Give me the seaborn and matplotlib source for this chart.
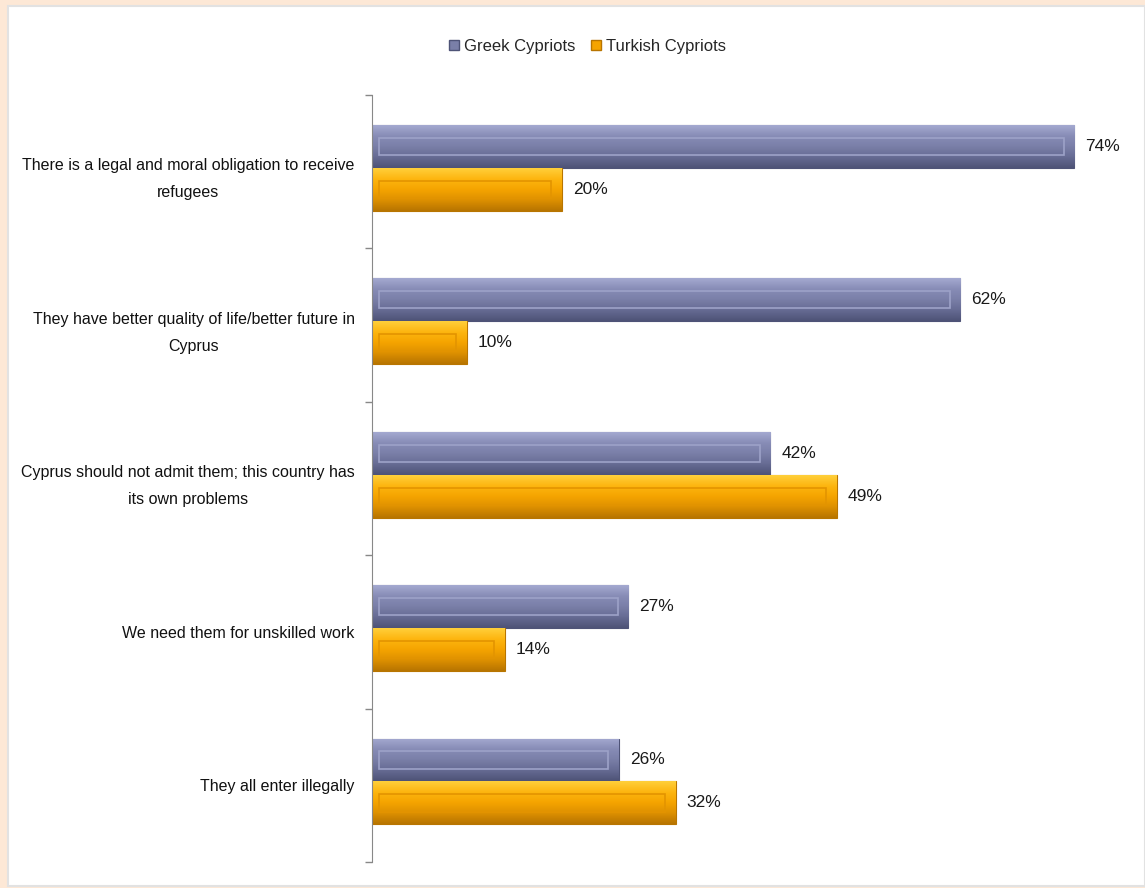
import numpy as np
import pandas as pd
import matplotlib.pyplot as plt
import seaborn as sns
from matplotlib.patches import Rectangle
from matplotlib.colors import LinearSegmentedColormap

# Data
categories = ["There is a legal and moral obligation to receive\nrefugees",
              "They have better quality of life/better future in\nCyprus",
              "Cyprus should not admit them; this country has\nits own problems",
              "We need them for unskilled work",
              "They all enter illegally"]
groups = ["Greek Cypriots", "Turkish Cypriots"]
greek = [74, 62, 42, 27, 26]
turkish = [20, 10, 49, 14, 32]

df = pd.DataFrame({
    "Reason": categories * 2,
    "Group": [groups[0]] * len(categories) + [groups[1]] * len(categories),
    "Percent": greek + turkish,
})

sns.set_style("white")
plt.rcParams['font.family'] = ['Liberation Sans', 'DejaVu Sans']

colors = {"Greek Cypriots": "#7B80A9", "Turkish Cypriots": "#F6A800"}
shades = {
    "Greek Cypriots": ["#A4A9D0", "#878CB6", "#7A7FA8", "#666B93", "#4E5377"],
    "Turkish Cypriots": ["#FFCF3A", "#FDB50F", "#F5A400", "#DD9000", "#B87500"],
}
inner = {"Greek Cypriots": "#9DA2C8", "Turkish Cypriots": "#E39400"}

fig = plt.figure(figsize=(11.45, 8.88), dpi=100)
fig.patch.set_facecolor("#FDE8D6")
# white panel behind everything
fig.patches.append(Rectangle((8 / 1145, 2 / 888), 1 - 8 / 1145, 1 - 8 / 888,
                             transform=fig.transFigure, facecolor="white",
                             edgecolor="#E2E2E2", lw=1.5, zorder=-10))

ax = fig.add_axes([372 / 1145, 1 - 862 / 888, (1131 - 372) / 1145, (862 - 95) / 888])
ax.set_facecolor("none")
ax.set_zorder(5)

sns.barplot(data=df, y="Reason", x="Percent", hue="Group", orient="h",
            palette=colors, width=0.56, gap=0, dodge=True, ax=ax,
            legend=False, edgecolor="none")

# beveled look on each bar
for container, grp in zip(ax.containers, groups):
    cmap = LinearSegmentedColormap.from_list(grp, shades[grp])
    grad = np.linspace(0, 1, 64).reshape(-1, 1)
    for bar in container:
        bar.set_y(bar.get_y() - 0.025)
        bar.set_edgecolor(shades[grp][4])
        bar.set_linewidth(0.8)
        x0, y0 = bar.get_x(), bar.get_y()
        w, h = bar.get_width(), bar.get_height()
        im = ax.imshow(grad, cmap=cmap, aspect="auto", origin="upper",
                       extent=(x0, x0 + w, y0 + h, y0), zorder=2)
        im.set_clip_path(bar)
        ax.add_patch(Rectangle((x0 + 0.7, y0 + h * 0.3), w - 1.8, h * 0.4,
                               facecolor="none", edgecolor=inner[grp],
                               lw=1.2, zorder=3))
    ax.bar_label(container, labels=[f"{int(v)}%" for v in container.datavalues],
                 padding=8, fontsize=12.5, color="#1A1A1A")
ax.set_xlim(0, 80)
ax.set_ylim(len(categories) - 0.5, -0.5)

# axis styling
sns.despine(ax=ax, top=True, right=True, bottom=True)
ax.spines["left"].set_color("#888888")
ax.set_xticks([])
ax.set_xlabel("")
ax.set_ylabel("")
ax.tick_params(axis="y", which="major", left=False, pad=9, labelsize=11.5)
ax.set_yticks(np.arange(-0.5, len(categories), 1.0), minor=True)
ax.tick_params(axis="y", which="minor", left=True, length=5, width=1,
               color="#888888", direction="out")
for lbl in ax.get_yticklabels():
    lbl.set_multialignment("center")
    lbl.set_linespacing(2.0)
    lbl.set_color("#111111")

# legend at top centre
handles = [Rectangle((0, 0), 1, 1, facecolor=shades[g][2], edgecolor=shades[g][4])
           for g in groups]
fig.legend(handles, groups, loc="center", bbox_to_anchor=(0.513, 0.948), ncol=2,
           frameon=False, fontsize=12, handlelength=0.6, handleheight=0.6,
           handletextpad=0.3, columnspacing=0.9)

fig.savefig("out.png", dpi=100, facecolor=fig.get_facecolor())
